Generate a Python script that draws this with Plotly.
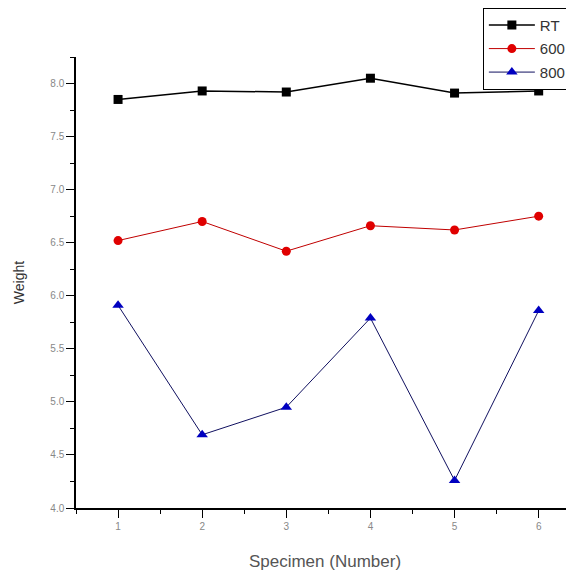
import plotly.graph_objects as go

specimen = [1, 2, 3, 4, 5, 6]
rt = [7.85, 7.93, 7.92, 8.05, 7.91, 7.93]
w600 = [6.52, 6.70, 6.42, 6.66, 6.62, 6.75]
w800 = [5.91, 4.69, 4.95, 5.79, 4.26, 5.86]

fig = go.Figure()
fig.add_trace(go.Scatter(x=specimen, y=rt, name="RT", mode="lines+markers", legendgroup="a",
                         line=dict(color="#000000", width=1.5),
                         marker=dict(symbol="square", size=9, color="#000000")))
fig.add_trace(go.Scatter(x=specimen, y=w600, name="600", mode="lines+markers", legendgroup="b",
                         line=dict(color="#c00000", width=1),
                         marker=dict(symbol="circle", size=9, color="#e00000")))
fig.add_trace(go.Scatter(x=specimen, y=w800, name="800", mode="lines+markers", legendgroup="c",
                         line=dict(color="#101060", width=1),
                         marker=dict(symbol="triangle-up", size=10, color="#0000c0")))

axis_common = dict(showline=True, linecolor="black", linewidth=1.5, showgrid=False,
                   zeroline=False, ticks="outside", ticklen=8, tickwidth=1.3,
                   tickcolor="black", automargin=False,
                   tickfont=dict(family="Liberation Sans, Arial", size=10, color="#888888"),
                   mirror=False)

fig.update_xaxes(range=[0.5, 6.42], tickvals=specimen, **axis_common,
                 minor=dict(dtick=0.5, ticks="outside", ticklen=4, tickcolor="black", tickwidth=1.3),
                 title=dict(text="Specimen (Number)", standoff=24,
                            font=dict(family="Liberation Sans, Arial", size=17, color="#555555")))
fig.update_yaxes(range=[4.0, 8.25], dtick=0.5, tickformat=".1f", **axis_common,
                 minor=dict(dtick=0.25, ticks="outside", ticklen=4, tickcolor="black", tickwidth=1.3),
                 title=dict(text="Weight", standoff=22,
                            font=dict(family="Liberation Sans, Arial", size=14, color="#333333")))

# page body has an 8px default margin; margins compensate so the plot lands where the reference has it
fig.update_layout(
    width=574, height=576,
    margin=dict(l=68, r=8, t=49, b=76, autoexpand=False),
    plot_bgcolor="white", paper_bgcolor="white",
    legend=dict(x=0.817, y=1.109, xanchor="left", yanchor="top",
                bordercolor="black", borderwidth=1, bgcolor="white",
                font=dict(family="Liberation Sans, Arial", size=15, color="#333333"),
                itemwidth=46, tracegroupgap=1),
)

fig.write_html("out.html")
